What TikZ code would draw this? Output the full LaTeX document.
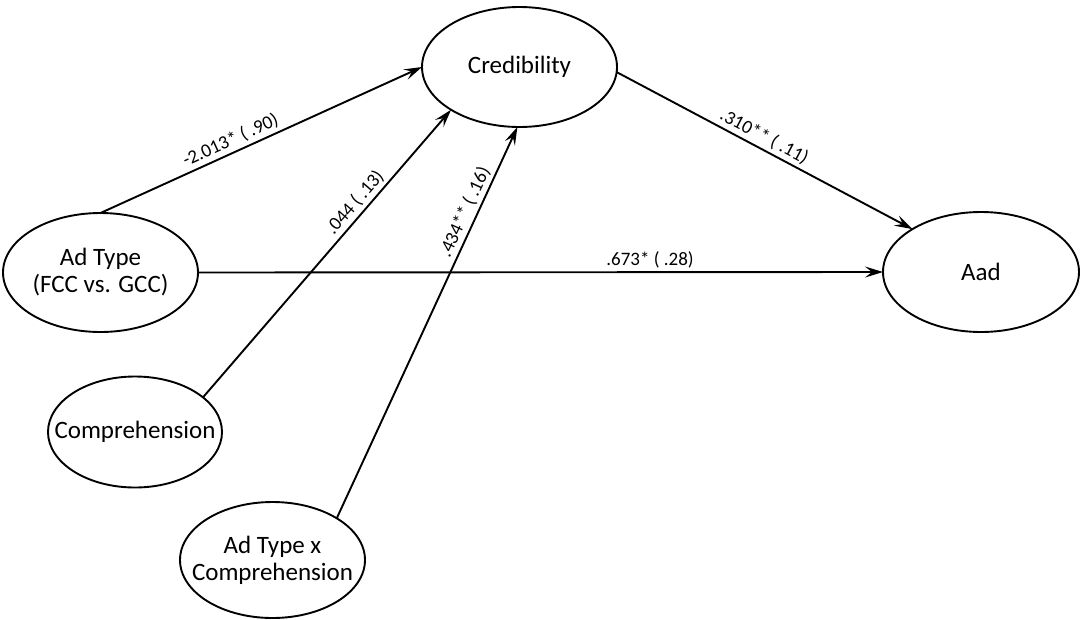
\documentclass[tikz,border=0pt]{standalone}
\usepackage{fontspec}
\setmainfont{Carlito}
\usetikzlibrary{shapes.geometric,arrows.meta}
\begin{document}
\begin{tikzpicture}[x=1pt,y=-1pt,
  var/.style={draw,ellipse,line width=1.9pt,inner sep=0pt,outer sep=0pt},
  vtext/.style={font=\fontsize{25}{27}\selectfont,align=center},
  path/.style={line width=1.9pt,-{Stealth[length=18pt,width=11pt,inset=7pt]}},
  lab/.style={font=\fontsize{19}{21}\selectfont,sloped,above,inner sep=3pt}]
\useasboundingbox (0,0) rectangle (1082,619);
\node[var,minimum width=195pt,minimum height=120pt] (cred) at (519.5,67) {};
\node[vtext] (credt) at (cred.center) {Credibility};
\node[var,minimum width=196pt,minimum height=120pt] (aad) at (981,272) {};
\node[vtext] (aadt) at (aad.center) {Aad};
\node[var,minimum width=195pt,minimum height=119pt] (adt) at (100.5,272.5) {};
\node[vtext] (adtt) at (adt.center) {Ad Type\\(FCC vs. GCC)};
\node[var,minimum width=174pt,minimum height=111pt] (comp) at (135,432) {};
\node[vtext] (compt) at (comp.center) {Comprehension};
\node[var,minimum width=185pt,minimum height=116pt] (adx) at (272.5,560) {};
\node[vtext] (adxt) at (adx.center) {Ad Type x\\Comprehension};
\draw[path] (adt.north) -- node[lab,pos=0.42] {-2.013* ( .90)} (cred.west);
\draw[path] (comp.27) -- node[lab,pos=0.65] {.044 ( .13)} (cred.212);
\draw[path] (adx.33) -- node[lab,pos=0.77] {.434** ( .16)} (cred.268);
\draw[path] (cred.-3) -- node[lab,pos=0.48] {.310** ( .11)} (aad.148);
\draw[path] (adt.east) -- node[lab,pos=0.66] {.673* ( .28)} (aad.west);
\end{tikzpicture}
\end{document}
